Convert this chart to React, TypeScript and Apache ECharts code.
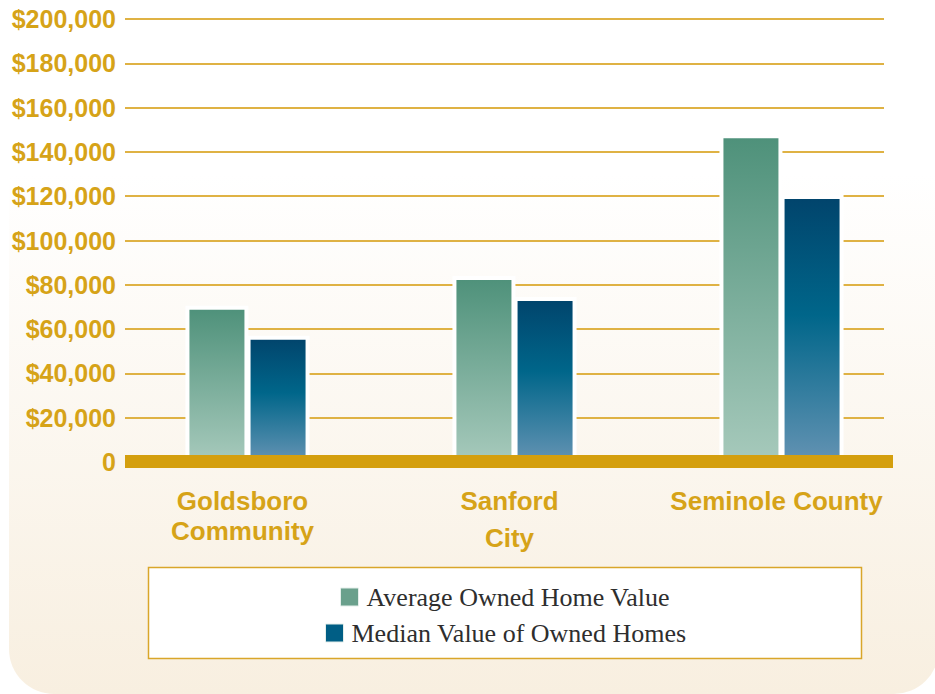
import React, { useEffect, useRef } from "react";
import * as echarts from "echarts";

const categories = ["Goldsboro\nCommunity", "Sanford\nCity", "Seminole County"];
const averageOwnedHomeValue = [70500, 84000, 148000];
const medianValueOfOwnedHomes = [57000, 74500, 120500];
const seriesNames = ["Average Owned Home Value", "Median Value of Owned Homes"];
const yMin = 0;
const yMax = 200000;
const yInterval = 20000;

const GOLD = "#d6a318";

export default function App() {
  const ref = useRef<HTMLDivElement>(null);

  useEffect(() => {
    if (!ref.current) return;
    const chart = echarts.init(ref.current, null, { renderer: "svg" });

    const avgGradient = new echarts.graphic.LinearGradient(0, 0, 0, 1, [
      { offset: 0, color: "#4e917a" },
      { offset: 1, color: "#a6c9bb" },
    ]);
    const medGradient = new echarts.graphic.LinearGradient(0, 0, 0, 1, [
      { offset: 0, color: "#01446c" },
      { offset: 0.45, color: "#00668a" },
      { offset: 1, color: "#6292b2" },
    ]);

    const catLabel = {
      fontFamily: "Liberation Sans, Arial, sans-serif",
      fontWeight: "bold",
      fontSize: 26,
      color: GOLD,
    };

    const legendText = {
      fontFamily: "Liberation Serif, Times New Roman, serif",
      fontSize: 26,
      lineHeight: 24,
      color: "#2e2e2e",
      padding: [0, 0, 0, 3],
    };

    const option: any = {
      animation: false,
      backgroundColor: "transparent",
      graphic: [
        {
          type: "rect",
          z: -10,
          silent: true,
          shape: { x: 9, y: -50, width: 930, height: 744, r: [0, 0, 45, 45] },
          style: {
            fill: new echarts.graphic.LinearGradient(0, 0, 0, 1, [
              { offset: 0, color: "#ffffff" },
              { offset: 0.3, color: "#ffffff" },
              { offset: 1, color: "#f8efe0" },
            ]),
          },
        },
        {
          type: "rect",
          z: 50,
          silent: true,
          shape: { x: 125, y: 455, width: 768, height: 13 },
          style: { fill: "#d49f0e" },
        },
        {
          type: "rect",
          z: 1,
          silent: true,
          shape: { x: 148.5, y: 567.5, width: 713, height: 91 },
          style: { fill: "#ffffff", stroke: "#d9a62a", lineWidth: 1.5 },
        },
      ],
      grid: [
        { left: 125, right: 51, top: 19, bottom: 232 },
        { left: 114, right: 20, top: 19, bottom: 232 },
      ],
      xAxis: [
        { type: "category", gridIndex: 0, data: categories, show: false },
        {
          type: "category",
          gridIndex: 1,
          data: categories,
          axisLine: { show: false },
          axisTick: { show: false },
          axisLabel: {
            margin: 24,
            interval: 0,
            padding: [0, 10, 0, 0],
            formatter: (value: string, index: number) => {
              const lines = value.split("\n");
              return lines
                .map((l, i) => (i === 0 ? `{a|${l}}` : index === 1 ? `{b|${l}}` : `{a|${l}}`))
                .join("\n");
            },
            rich: {
              a: { ...catLabel, lineHeight: 30 },
              b: { ...catLabel, lineHeight: 44 },
            },
          },
        },
      ],
      yAxis: [
        {
          type: "value",
          gridIndex: 0,
          min: yMin,
          max: yMax,
          interval: yInterval,
          axisLine: { show: false },
          axisTick: { show: false },
          splitLine: { lineStyle: { color: "#dfb244", width: 2 } },
          axisLabel: {
            margin: 9,
            color: GOLD,
            fontFamily: "Liberation Sans, Arial, sans-serif",
            fontWeight: "bold",
            fontSize: 25,
            formatter: (v: number) => (v === 0 ? "0" : "$" + v.toLocaleString("en-US")),
          },
        },
        {
          type: "value",
          gridIndex: 1,
          min: yMin,
          max: yMax,
          interval: yInterval,
          show: false,
          splitLine: { show: false },
        },
      ],
      legend: [
        {
          data: [{ name: seriesNames[0], itemStyle: { color: "#6aa08c", borderColor: "#e4eeea", borderWidth: 1 } }],
          left: 340,
          top: 584,
          padding: 0,
          icon: "rect",
          itemWidth: 18,
          itemHeight: 18,
          z: 10,
          textStyle: legendText,
        },
        {
          data: [{ name: seriesNames[1], itemStyle: { color: "#005e85", borderColor: "#e4eeea", borderWidth: 1 } }],
          left: 325,
          top: 620,
          padding: 0,
          icon: "rect",
          itemWidth: 18,
          itemHeight: 18,
          z: 10,
          textStyle: legendText,
        },
      ],
      series: [
        {
          name: seriesNames[0],
          type: "bar",
          xAxisIndex: 1,
          yAxisIndex: 1,
          data: averageOwnedHomeValue,
          barWidth: 63,
          barGap: "-3%",
          itemStyle: { color: avgGradient, borderColor: "#ffffff", borderWidth: 4 },
        },
        {
          name: seriesNames[1],
          type: "bar",
          xAxisIndex: 1,
          yAxisIndex: 1,
          data: medianValueOfOwnedHomes,
          barWidth: 63,
          barGap: "-3%",
          itemStyle: { color: medGradient, borderColor: "#ffffff", borderWidth: 4 },
        },
      ],
    };

    chart.setOption(option);
    return () => chart.dispose();
  }, []);

  return (
    <div
      ref={ref}
      style={{ position: "fixed", left: 0, top: 0, width: 935, height: 694, background: "#ffffff" }}
    />
  );
}
